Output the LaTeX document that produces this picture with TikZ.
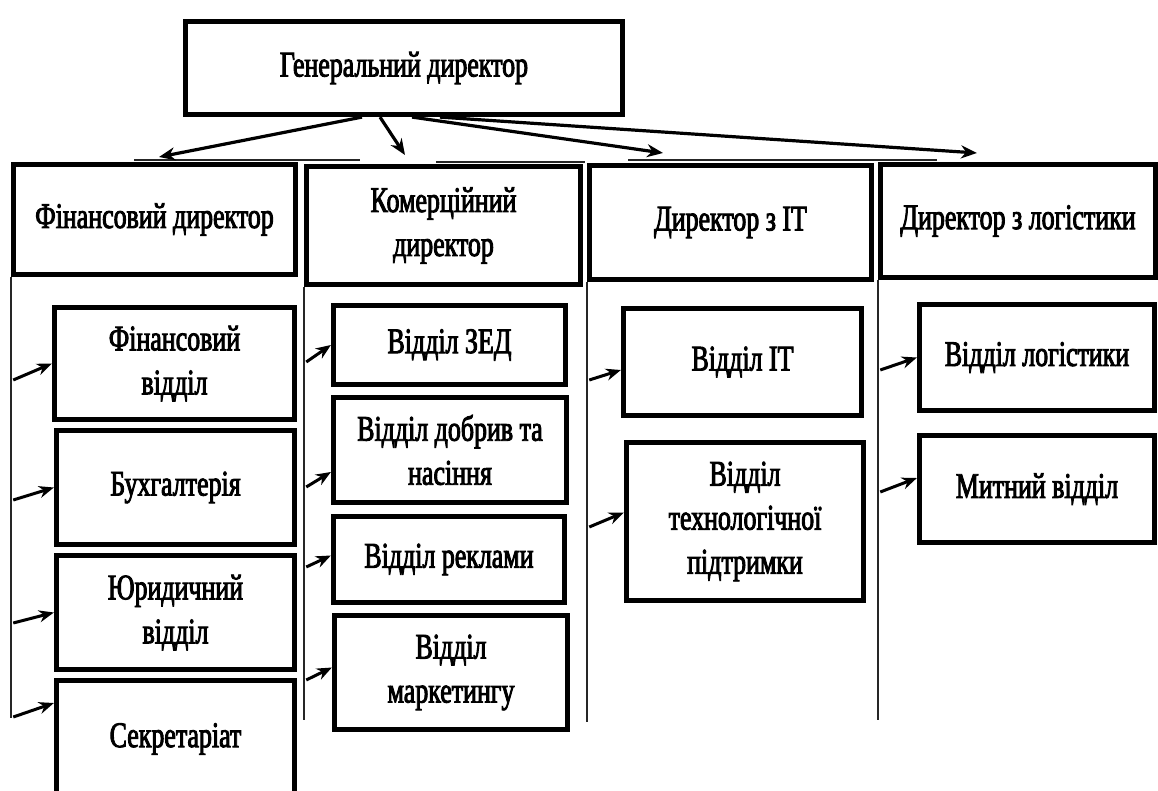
\documentclass[tikz,border=0pt]{standalone}
\usepackage{fontspec}
\setmainfont[FakeStretch=0.72]{Liberation Serif}
\usetikzlibrary{arrows.meta,calc}
\newcommand\heavytext{\special{pdf:literal 2 Tr 0.9 w}}
\begin{document}
\begin{tikzpicture}[x=1pt,y=-1pt,
  bx/.style={draw, line width=5.2pt, inner sep=1pt, align=center,
    font=\fontsize{36}{44}\selectfont\heavytext},
  tline/.style={line width=1.4pt, black!85},
  tarr/.style={line width=3.2pt, -{Stealth[length=16pt,width=13pt]}},
  sarr/.style={line width=3pt, -{Stealth[length=15pt,width=12pt]}}]
\useasboundingbox (0,0) rectangle (1158,791);
\clip (0,0) rectangle (1158,791);
\fill[white] (0,0) rectangle (1158,791);
% top level
\node[bx, minimum width=437pt, minimum height=93pt] (gd) at (404,68) {Генеральний директор};
% directors
\node[bx, minimum width=282pt, minimum height=110pt] (fd) at (154.5,219.5) {Фінансовий директор};
\node[bx, minimum width=274pt, minimum height=118pt] (cd) at (443.5,225.5) {Комерційний\\директор};
\node[bx, minimum width=282pt, minimum height=114pt] (itd) at (730.5,222.5) {Директор з IT};
\node[bx, minimum width=275pt, minimum height=113pt] (ld) at (1018,221) {Директор з логістики};
% thin frame lines
\coordinate (h1a) at (134,160); \coordinate (h1b) at (360,160);
\coordinate (h2a) at (436,162); \coordinate (h2b) at (585,162);
\coordinate (h3a) at (628,160); \coordinate (h3b) at (937,160);
\draw[tline] (h1a) -- (h1b);
\draw[tline] (h2a) -- (h2b);
\draw[tline] (h3a) -- (h3b);
\draw[tline] (fd.south west) -- ++(0,441);
\draw[tline] (cd.south west) -- ++(0,433);
\draw[tline] (itd.south west) -- ++(0,440);
\draw[tline] (ld.south west) -- ++(0,440);
% column 1
\node[bx, minimum width=240pt, minimum height=112pt] (fv) at (174.5,363.5) {Фінансовий\\відділ};
\node[bx, minimum width=238pt, minimum height=114pt] (bh) at (175.5,487.5) {Бухгалтерія};
\node[bx, minimum width=238pt, minimum height=114pt] (yv) at (175.5,612.5) {Юридичний\\відділ};
\node[bx, minimum width=238pt, minimum height=117pt] (sk) at (175.5,739) {Секретаріат};
% column 2
\node[bx, minimum width=232pt, minimum height=79pt] (zed) at (449.5,345) {Відділ ЗЕД};
\node[bx, minimum width=233pt, minimum height=105pt] (db) at (450,450) {Відділ добрив та\\насіння};
\node[bx, minimum width=231pt, minimum height=86pt] (rk) at (449,559.5) {Відділ реклами};
\node[bx, minimum width=233pt, minimum height=114pt] (mk) at (451,672.5) {Відділ\\маркетингу};
% column 3
\node[bx, minimum width=238pt, minimum height=107pt] (it) at (742.5,362) {Відділ IT};
\node[bx, minimum width=237pt, minimum height=158pt] (tp) at (745,521.5) {Відділ\\технологічної\\підтримки};
% column 4
\node[bx, minimum width=235pt, minimum height=106pt] (lg) at (1037,357.5) {Відділ логістики};
\node[bx, minimum width=235pt, minimum height=107pt] (mt) at (1037,489) {Митний відділ};
% top arrows
\coordinate (t1) at (159,157);
\coordinate (t2) at (405,155);
\coordinate (t3) at (663,153);
\coordinate (t4) at (977,153);
\draw[tarr] ([xshift=-42pt]gd.south) -- (t1);
\draw[tarr] ([xshift=-24pt]gd.south) -- (t2);
\draw[tarr] ([xshift=8pt]gd.south) -- (t3);
\draw[tarr] ([xshift=36pt]gd.south) -- (t4);
% tails on vertical lines
\coordinate (c1) at (13.25,380);
\coordinate (c2) at (13.25,500);
\coordinate (c3) at (13.25,623);
\coordinate (c4) at (13.25,717);
\coordinate (d1) at (306.25,362);
\coordinate (d2) at (306.25,487);
\coordinate (d3) at (306.25,567);
\coordinate (d4) at (306.25,680);
\coordinate (e1) at (589.25,380);
\coordinate (e2) at (589.25,527);
\coordinate (f1) at (880.25,370);
\coordinate (f2) at (880.25,492);
\draw[sarr] (c1) -- (fv.west);
\draw[sarr] (c2) -- (bh.west);
\draw[sarr] (c3) -- (yv.west);
\draw[sarr] (c4) -- ($(sk.west)+(0,-36)$);
\draw[sarr] (d1) -- (zed.west);
\draw[sarr] (d2) -- ($(db.west)+(0,22)$);
\draw[sarr] (d3) -- ($(rk.west)+(0,-4)$);
\draw[sarr] (d4) -- ($(mk.west)+(0,-5)$);
\draw[sarr] (e1) -- ($(it.west)+(0,8)$);
\draw[sarr] (e2) -- ($(tp.west)+(0,-9)$);
\draw[sarr] (f1) -- (lg.west);
\draw[sarr] (f2) -- ($(mt.west)+(0,-11)$);
\end{tikzpicture}
\end{document}
